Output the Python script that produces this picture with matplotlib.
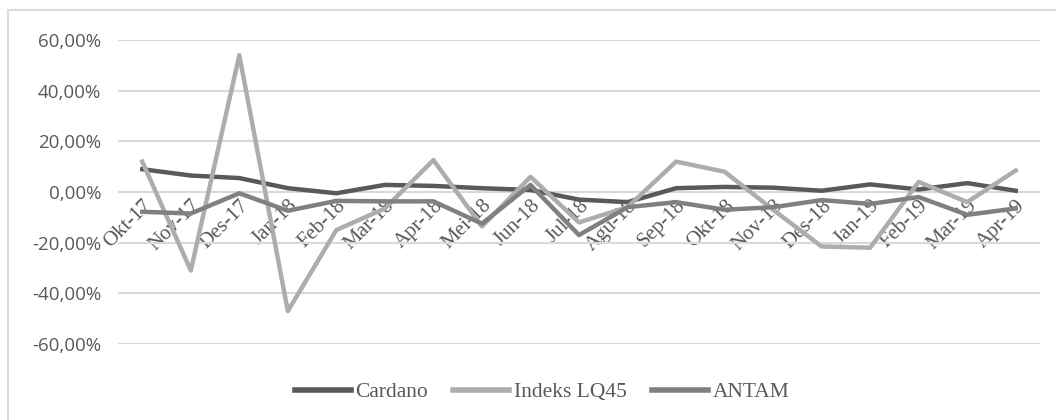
import matplotlib
matplotlib.use("Agg")
import matplotlib.pyplot as plt
from matplotlib.patches import Rectangle
from matplotlib.ticker import FuncFormatter

months = ["Okt-17", "Nov-17", "Des-17", "Jan-18", "Feb-18", "Mar-18", "Apr-18",
          "Mei-18", "Jun-18", "Jul-18", "Agu-18", "Sep-18", "Okt-18", "Nov-18",
          "Des-18", "Jan-19", "Feb-19", "Mar-19", "Apr-19"]

cardano = [9.0, 6.5, 5.5, 1.5, -0.5, 2.8, 2.4, 1.5, 0.8, -3.0, -4.0, 1.5,
           2.0, 1.7, 0.5, 3.0, 1.0, 3.5, 0.5]
lq45 = [12.0, -31.0, 54.0, -47.0, -15.0, -6.5, 12.6, -13.6, 6.0, -12.0, -6.0,
        12.0, 8.0, -7.0, -21.5, -22.0, 4.0, -4.0, 8.5]
antam = [-7.8, -8.5, -0.5, -7.4, -3.5, -3.7, -3.7, -12.5, 2.8, -17.0, -6.0,
         -4.0, -7.0, -6.0, -3.2, -4.7, -2.0, -9.0, -6.5]

fig = plt.figure(figsize=(10.56, 4.2), dpi=100)
fig.patches.append(Rectangle((8 / 1056, -0.1), 1.2, 1.1 - 10 / 420,
                             transform=fig.transFigure, fill=False,
                             edgecolor="#d9d9d9", lw=1.5))
ax = fig.add_axes([118 / 1056, 1 - 344 / 420, 922 / 1056, 304 / 420])

x = list(range(len(months)))
ax.plot(x, cardano, color="#595959", lw=3.2, label="Cardano", solid_joinstyle="round")
ax.plot(x, lq45, color="#adadad", lw=3.2, label="Indeks LQ45", solid_joinstyle="round")
ax.plot(x, antam, color="#808080", lw=3.2, label="ANTAM", solid_joinstyle="round")

ax.set_xlim(-0.5, len(months) - 0.5)
ax.set_ylim(-60, 60)
ax.set_yticks(range(-60, 61, 20))
ax.yaxis.set_major_formatter(FuncFormatter(lambda v, p: f"{v:.2f}%".replace(".", ",")))
ax.grid(axis="y", color="#d9d9d9", lw=1.5)
ax.set_axisbelow(True)
for s in ["top", "right", "left"]:
    ax.spines[s].set_visible(False)
ax.spines["bottom"].set_position(("data", 0))
ax.spines["bottom"].set_visible(False)

ax.set_xticks(x)
ax.set_xticklabels(months, rotation=45, ha="right", rotation_mode="anchor",
                   family="Liberation Serif", fontsize=15, color="#595959")
ax.tick_params(axis="x", length=0, pad=3)
ax.tick_params(axis="y", length=0, pad=12, labelsize=13.5, labelcolor="#595959")
for lbl in ax.get_yticklabels():
    lbl.set_family("Open Sans")

leg = fig.legend(loc="center", bbox_to_anchor=(542 / 1056, 1 - 392 / 420), ncol=3,
                 frameon=False, prop={"family": "Liberation Serif", "size": 15.5},
                 handlelength=2.6, handletextpad=0.2, columnspacing=1.2)
for line in leg.get_lines():
    line.set_linewidth(4)
for t in leg.get_texts():
    t.set_color("#595959")

fig.savefig("out.png", dpi=100)
